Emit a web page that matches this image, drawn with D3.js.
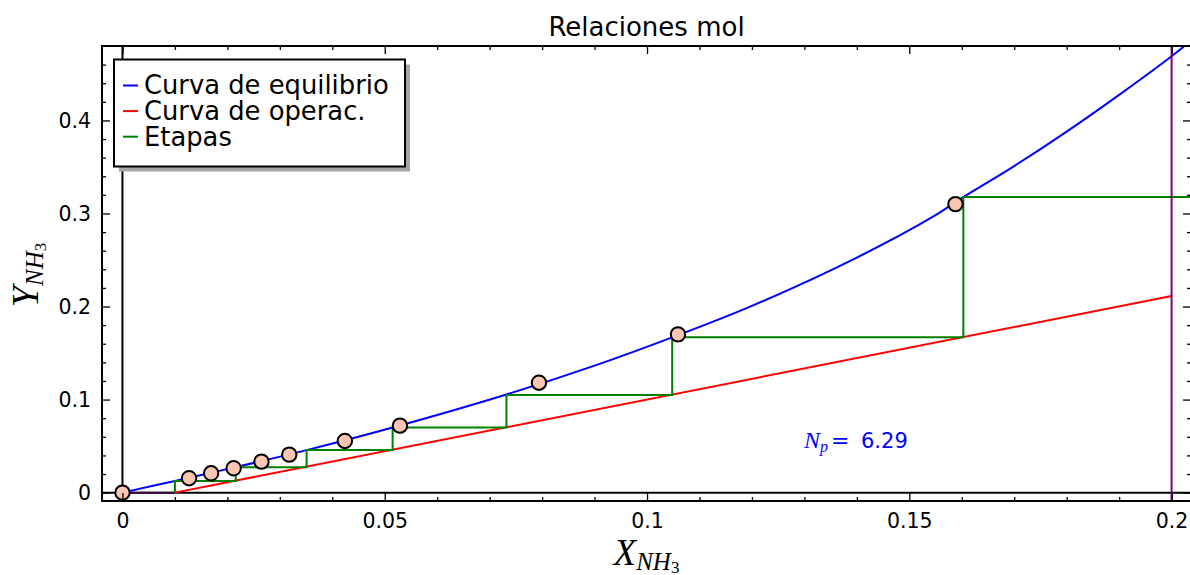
<!DOCTYPE html>
<html>
<head>
<meta charset="utf-8">
<script src="https://cdn.jsdelivr.net/npm/d3@7"></script>
<style>
  body { margin: 0; background: #fff; }
  svg { display: block; }
</style>
</head>
<body>
<svg id="chart" width="1190" height="575"></svg>
<script>
// Equilibrium curve samples (mole ratios X, Y)
const eqX = [0, 0.0100, 0.0216, 0.0351, 0.0515, 0.0732, 0.0900, 0.1048, 0.1200, 0.1400, 0.1546, 0.1603, 0.1700, 0.1800, 0.1900, 0.2000, 0.2040];
const eqY = [0, 0.0126, 0.0274, 0.0457, 0.0700, 0.1055, 0.1365, 0.1669, 0.2007, 0.2526, 0.2968, 0.3177, 0.3510, 0.3880, 0.4275, 0.4690, 0.4870];

// Solubility data points
const dataX = [0, 0.0127, 0.0169, 0.0212, 0.0265, 0.0318, 0.0424, 0.0529, 0.0794, 0.1059, 0.1588];
const dataY = [0, 0.0155, 0.0208, 0.0262, 0.0333, 0.0408, 0.0555, 0.0720, 0.1181, 0.1701, 0.3101];

// Operating line end points
const opX = [0.0100, 0.2000];
const opY = [0.0000, 0.2113];

// Stage construction: X at each riser, Y of each tread
const stageX = [0.0100, 0.0216, 0.0351, 0.0515, 0.0732, 0.1048, 0.1603, 0.2960];
const stageY = [0.0126, 0.0274, 0.0457, 0.0700, 0.1049, 0.1669, 0.3177];

const xEnd = 0.2;
const nStages = "6.29";

const xTicks = [0, 0.05, 0.1, 0.15, 0.2];
const xTickLabels = ["0", "0.05", "0.1", "0.15", "0.2"];
const yTicks = [0, 0.1, 0.2, 0.3, 0.4];
const yTickLabels = ["0", "0.1", "0.2", "0.3", "0.4"];
const legendLabels = ["Curva de equilibrio", "Curva de operac.", "Etapas"];
const legendColors = ["#0000ff", "#ff0000", "#008000"];

const svg = d3.select("#chart");
const pL = 102, pR = 1191, pT = 46, pB = 501;

const x = d3.scaleLinear().domain([-0.0039, 0.2037]).range([pL, pR]);
const y = d3.scaleLinear().domain([-0.009, 0.48]).range([pB, pT]);

svg.append("defs").append("clipPath").attr("id", "plotclip")
  .append("rect").attr("x", pL).attr("y", pT)
  .attr("width", pR - pL).attr("height", pB - pT);

const plot = svg.append("g").attr("clip-path", "url(#plotclip)");

// zero reference lines
plot.append("line")
  .attr("x1", pL).attr("x2", pR).attr("y1", y(0)).attr("y2", y(0))
  .attr("stroke", "#000").attr("stroke-width", 2);
plot.append("line")
  .attr("x1", x(0)).attr("x2", x(0)).attr("y1", pT).attr("y2", pB)
  .attr("stroke", "#000").attr("stroke-width", 2);
plot.append("line")
  .attr("x1", x(0)).attr("x2", x(opX[0])).attr("y1", y(0)).attr("y2", y(0))
  .attr("stroke", "#3a0a3a").attr("stroke-width", 2);

const xy = d3.line().x(d => x(d[0])).y(d => y(d[1]));

// equilibrium curve
plot.append("path")
  .datum(eqX.map((v, i) => [v, eqY[i]]))
  .attr("d", d3.line().x(d => x(d[0])).y(d => y(d[1])).curve(d3.curveCatmullRom.alpha(0.5)))
  .attr("fill", "none").attr("stroke", "#0000ff").attr("stroke-width", 2);

// operating line
plot.append("path")
  .datum(opX.map((v, i) => [v, opY[i]]))
  .attr("d", xy)
  .attr("fill", "none").attr("stroke", "#ff0000").attr("stroke-width", 2);

// stages
const steps = [[stageX[0], opY[0]]];
stageY.forEach((v, i) => {
  steps.push([stageX[i], v]);
  steps.push([stageX[i + 1], v]);
});
plot.append("path")
  .datum(steps)
  .attr("d", xy)
  .attr("fill", "none").attr("stroke", "#008000").attr("stroke-width", 2);

// outlet limit
plot.append("line")
  .attr("x1", x(xEnd)).attr("x2", x(xEnd)).attr("y1", pT).attr("y2", pB)
  .attr("stroke", "#800080").attr("stroke-width", 2);

// data points
plot.selectAll("circle.pt")
  .data(dataX.map((v, i) => [v, dataY[i]]))
  .join("circle").attr("class", "pt")
  .attr("cx", d => x(d[0])).attr("cy", d => y(d[1])).attr("r", 7.2)
  .attr("fill", "#fac6b2").attr("stroke", "#000").attr("stroke-width", 2);

// axes (ticks inward on all four sides)
const minorX = d3.range(0.01, 0.2035, 0.01).filter(v => Math.abs(v / 0.05 - Math.round(v / 0.05)) > 1e-6);
const minorY = d3.range(0.02, 0.475, 0.02).filter(v => Math.abs(v / 0.1 - Math.round(v / 0.1)) > 1e-6);

function styleAxis(g) {
  g.select(".domain").remove();
  g.selectAll(".tick line").attr("stroke", "#000").attr("stroke-width", 1.3);
  g.selectAll("text").attr("font-family", "DejaVu Sans").attr("font-size", 20.5).attr("fill", "#000");
}

svg.append("g").attr("transform", `translate(0,${pB})`)
  .call(d3.axisBottom(x).tickValues(xTicks).tickSize(-8).tickPadding(12)
    .tickFormat((d, i) => xTickLabels[i])).call(styleAxis);
svg.append("g").attr("transform", `translate(0,${pB})`)
  .call(d3.axisBottom(x).tickValues(minorX).tickSize(-4).tickFormat("")).call(styleAxis);
svg.append("g").attr("transform", `translate(0,${pT})`)
  .call(d3.axisTop(x).tickValues(xTicks).tickSize(-8).tickFormat("")).call(styleAxis);
svg.append("g").attr("transform", `translate(0,${pT})`)
  .call(d3.axisTop(x).tickValues(minorX).tickSize(-4).tickFormat("")).call(styleAxis);

svg.append("g").attr("transform", `translate(${pL},0)`)
  .call(d3.axisLeft(y).tickValues(yTicks).tickSize(-8).tickPadding(11)
    .tickFormat((d, i) => yTickLabels[i])).call(styleAxis);
svg.append("g").attr("transform", `translate(${pL},0)`)
  .call(d3.axisLeft(y).tickValues(minorY).tickSize(-4).tickFormat("")).call(styleAxis);
svg.append("g").attr("transform", `translate(${pR},0)`)
  .call(d3.axisRight(y).tickValues(yTicks).tickSize(-8).tickFormat("")).call(styleAxis);
svg.append("g").attr("transform", `translate(${pR},0)`)
  .call(d3.axisRight(y).tickValues(minorY).tickSize(-4).tickFormat("")).call(styleAxis);

// frame
svg.append("rect")
  .attr("x", pL).attr("y", pT).attr("width", pR - pL).attr("height", pB - pT)
  .attr("fill", "none").attr("stroke", "#000").attr("stroke-width", 2);

// title
svg.append("text")
  .attr("x", (pL + pR) / 2).attr("y", 35.5).attr("text-anchor", "middle")
  .attr("font-family", "DejaVu Sans").attr("font-size", 26).attr("fill", "#000")
  .text("Relaciones mol");

// axis labels
const xl = svg.append("text")
  .attr("x", (pL + pR) / 2).attr("y", 565).attr("text-anchor", "middle")
  .attr("font-family", "Liberation Serif").attr("fill", "#000");
xl.append("tspan").attr("font-style", "italic").attr("font-size", 37).text("X");
xl.append("tspan").attr("font-style", "italic").attr("font-size", 25).attr("dy", 5).text("NH");
xl.append("tspan").attr("font-size", 17).attr("dy", 2.5).text("3");

const yl = svg.append("text")
  .attr("transform", "translate(38,275) rotate(-90)").attr("text-anchor", "middle")
  .attr("font-family", "Liberation Serif").attr("fill", "#000");
yl.append("tspan").attr("font-style", "italic").attr("font-size", 38).text("Y");
yl.append("tspan").attr("font-style", "italic").attr("font-size", 25).attr("dy", 5).text("NH");
yl.append("tspan").attr("font-size", 17).attr("dy", 2.5).text("3");

// number of stages annotation
const np = svg.append("text")
  .attr("x", 804).attr("y", 447.5)
  .attr("font-family", "Liberation Serif").attr("fill", "#0000ff");
np.append("tspan").attr("font-style", "italic").attr("font-size", 24).text("N");
np.append("tspan").attr("font-style", "italic").attr("font-size", 16).attr("dy", 4).text("p");
np.append("tspan").attr("font-family", "DejaVu Serif").attr("font-size", 22).attr("dy", -4).attr("dx", 3).text("=");
svg.append("text")
  .attr("x", 861).attr("y", 447.5)
  .attr("font-family", "DejaVu Sans").attr("font-size", 21).attr("fill", "#0000ff")
  .text(nStages);

// legend
const lg = svg.append("g");
lg.append("rect").attr("x", 119).attr("y", 64.5).attr("width", 291).attr("height", 107)
  .attr("fill", "#a6a6a6");
lg.append("rect").attr("x", 114).attr("y", 59.5).attr("width", 291).attr("height", 107)
  .attr("fill", "#fff").attr("stroke", "#000").attr("stroke-width", 2);
legendLabels.forEach((lab, i) => {
  const cy = 85.5 + i * 25.6;
  lg.append("line").attr("x1", 123).attr("x2", 138).attr("y1", cy).attr("y2", cy)
    .attr("stroke", legendColors[i]).attr("stroke-width", 2);
  lg.append("text").attr("x", 144).attr("y", cy + 8.8)
    .attr("font-family", "DejaVu Sans").attr("font-size", 25.8).attr("fill", "#000")
    .text(lab);
});
</script>
</body>
</html>
